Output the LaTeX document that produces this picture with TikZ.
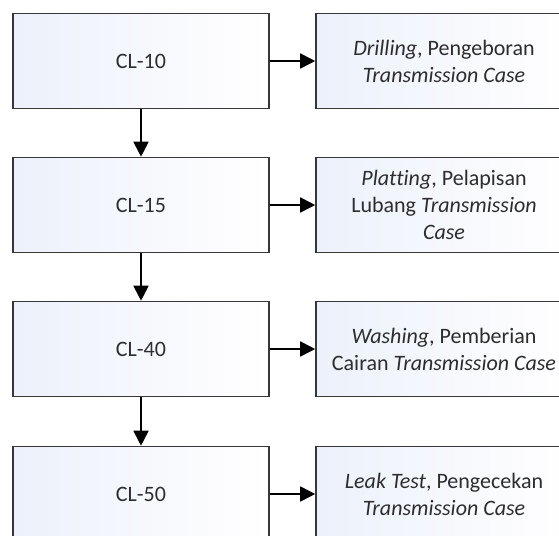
\documentclass[tikz,border=0pt]{standalone}
\usepackage{fontspec}
\setmainfont{Carlito}[Ligatures=CommonOff]
\usepackage{tikz}
\usetikzlibrary{arrows.meta}
\definecolor{boxtint}{RGB}{236,241,251}
\definecolor{boxline}{RGB}{55,55,55}
\definecolor{boxtext}{RGB}{45,45,45}

\begin{document}
\begin{tikzpicture}[x=1pt, y=-1pt,
    >={Triangle[length=15pt,width=15pt]},
    stage/.style={rectangle, draw=boxline, line width=1.6pt,
      left color=boxtint, right color=white,
      minimum width=256pt, minimum height=95pt, inner sep=0pt,
      text=boxtext, align=center,
      font=\fontsize{22}{27}\selectfont}]
  \useasboundingbox (0,0) rectangle (559,535);

  % Station boxes
  \foreach \i/\num/\y in {1/10/61, 2/15/205, 3/40/349, 4/50/494}
    \node[stage] (cl\i) at (141,\y) {CL-\num};

  % Operation boxes
  \node[stage] (op1) at (444,61)
    {\textit{Drilling}, Pengeboran\\\textit{Transmission Case}};
  \node[stage] (op2) at (444,205)
    {\textit{Platting}, Pelapisan\\Lubang \textit{Transmission}\\\textit{Case}};
  \node[stage] (op3) at (444,349)
    {\textit{Washing}, Pemberian\\Cairan \textit{Transmission Case}};
  \node[stage] (op4) at (444,494)
    {\textit{Leak Test}, Pengecekan\\\textit{Transmission Case}};

  \foreach \i in {1,2,3,4}
    \draw[->, line width=1.8pt] (cl\i) -- (op\i);

  \draw[->, line width=1.8pt] (cl1) -- (cl2);
  \draw[->, line width=1.8pt] (cl2) -- (cl3);
  \draw[->, line width=1.8pt] (cl3) -- (cl4);
\end{tikzpicture}
\end{document}
